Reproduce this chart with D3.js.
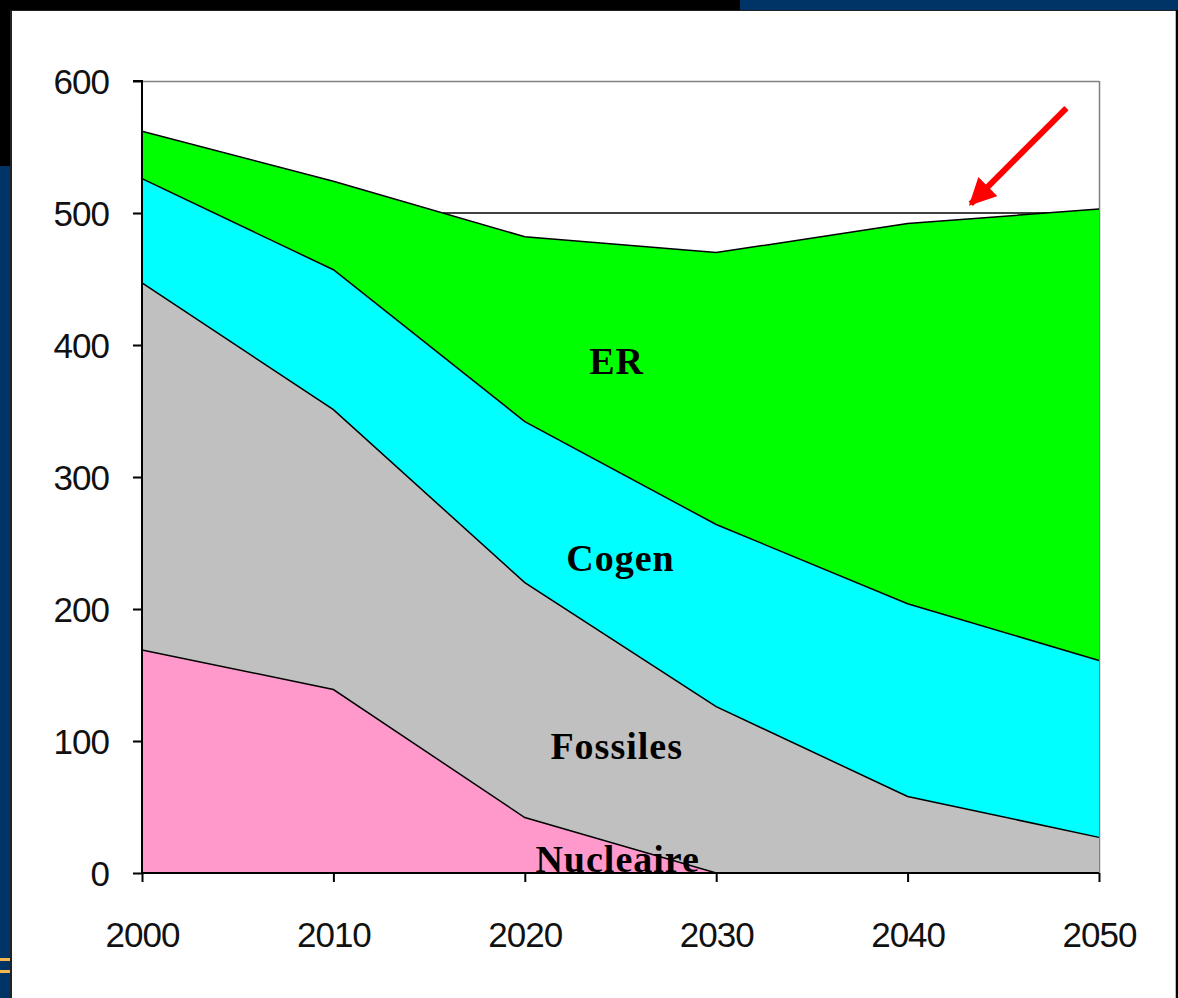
<!DOCTYPE html>
<html>
<head>
<meta charset="utf-8">
<script src="https://cdn.jsdelivr.net/npm/d3@7"></script>
<style>
  html, body { margin: 0; padding: 0; background: #000; }
  svg { display: block; }
</style>
</head>
<body>
<svg id="chart" width="1178" height="998"></svg>
<script>
// ---- Data ----
const years = [2000, 2010, 2020, 2030, 2040, 2050];
const nucleaire = [169, 139, 42, 0, 0, 0];
const fossiles  = [278, 212, 178, 126, 58, 27];
const cogen     = [79, 106, 122, 138, 146, 134];
const er        = [36, 67, 140, 206, 288, 342];
const seriesKeys = ["Nucleaire", "Fossiles", "Cogen", "ER"];
const seriesColors = ["#ff99cc", "#c0c0c0", "#00ffff", "#00ff00"];
const yTicks = [0, 100, 200, 300, 400, 500, 600];
const target = 500;
// label anchors in data units (year, value)
const labelNames = ["ER", "Cogen", "Fossiles", "Nucleaire"];
const labelYears = [2024.8, 2025.0, 2024.8, 2024.85];
const labelVals  = [378, 229, 86, 1];

const rows = years.map((y, i) => ({
  year: y, Nucleaire: nucleaire[i], Fossiles: fossiles[i], Cogen: cogen[i], ER: er[i]
}));

const svg = d3.select("#chart");

// ---- Background frame ----
svg.append("rect").attr("x", 0).attr("y", 0).attr("width", 1178).attr("height", 998).attr("fill", "#000");
svg.append("rect").attr("x", 740).attr("y", 0).attr("width", 438).attr("height", 10).attr("fill", "#003366");
svg.append("rect").attr("x", 0).attr("y", 166).attr("width", 10).attr("height", 832).attr("fill", "#003366");
svg.append("rect").attr("x", 0).attr("y", 958).attr("width", 10).attr("height", 3).attr("fill", "#f5b84f");
svg.append("rect").attr("x", 0).attr("y", 970).attr("width", 10).attr("height", 3).attr("fill", "#f5b84f");
svg.append("rect").attr("x", 10).attr("y", 10).attr("width", 1166).attr("height", 988).attr("fill", "#222");
svg.append("rect").attr("x", 12).attr("y", 11).attr("width", 1163).attr("height", 987).attr("fill", "#fff");
svg.append("line").attr("x1", 1175.5).attr("x2", 1175.5).attr("y1", 11).attr("y2", 998).attr("stroke", "#bbb");

// ---- Scales ----
const x = d3.scaleLinear().domain([2000, 2050]).range([142, 1099]);
const y = d3.scaleLinear().domain([0, 600]).range([873, 81]);

// plot frame (top & right)
svg.append("line").attr("x1", x(2000)).attr("x2", x(2050)).attr("y1", y(600) + 0.5).attr("y2", y(600) + 0.5)
  .attr("stroke", "#808080").attr("stroke-width", 1.5);
svg.append("line").attr("x1", x(2050) + 0.5).attr("x2", x(2050) + 0.5).attr("y1", y(600)).attr("y2", y(0))
  .attr("stroke", "#808080").attr("stroke-width", 1.5);

// ---- Target line at 500, from where total first drops to it (behind the areas) ----
const totals = rows.map(r => seriesKeys.reduce((s, k) => s + r[k], 0));
let startYear = years[0];
for (let i = 0; i < years.length - 1; i++) {
  if (totals[i] >= target && totals[i + 1] < target) {
    const t = (totals[i] - target) / (totals[i] - totals[i + 1]);
    startYear = years[i] + t * (years[i + 1] - years[i]);
    break;
  }
}
svg.append("line")
  .attr("x1", x(startYear)).attr("x2", x(2050))
  .attr("y1", y(target)).attr("y2", y(target))
  .attr("stroke", "#000").attr("stroke-width", 1.5);

// ---- Stacked areas ----
const stack = d3.stack().keys(seriesKeys);
const stacked = stack(rows);

const area = d3.area()
  .x(d => x(d.data.year))
  .y0(d => y(d[0]))
  .y1(d => y(d[1]));
const topLine = d3.line()
  .x(d => x(d.data.year))
  .y(d => y(d[1]));

svg.append("g").selectAll("path.area").data(stacked).join("path")
  .attr("class", "area")
  .attr("d", area)
  .attr("fill", (d, i) => seriesColors[i]);

svg.append("g").selectAll("path.edge").data(stacked).join("path")
  .attr("class", "edge")
  .attr("d", topLine)
  .attr("fill", "none")
  .attr("stroke", "#000")
  .attr("stroke-width", 1.5);

// ---- Axes ----
const yAxis = d3.axisLeft(y).tickValues(yTicks).tickSize(9).tickPadding(5).tickFormat(d3.format("d"));
const gy = svg.append("g").attr("transform", `translate(${x(2000)},0)`).call(yAxis);
gy.select(".domain").attr("stroke", "#000").attr("stroke-width", 2).attr("d", `M-9,${y(600)}H0V${y(0)}`);
gy.selectAll(".tick line").attr("stroke", "#000").attr("stroke-width", 2);
gy.selectAll(".tick text")
  .attr("font-family", "'Liberation Sans', Arial, sans-serif")
  .attr("font-size", 35).attr("letter-spacing", -1)
  .attr("fill", "#111")
  .attr("x", -33)
  .attr("dy", "0.36em");

const xAxis = d3.axisBottom(x).tickValues(years).tickSize(9).tickPadding(40).tickFormat(d3.format("d"));
const gx = svg.append("g").attr("transform", `translate(0,${y(0)})`).call(xAxis);
gx.select(".domain").attr("stroke", "#000").attr("stroke-width", 2).attr("d", `M${x(2000)},0H${x(2050)}`);
gx.selectAll(".tick line").attr("stroke", "#000").attr("stroke-width", 2);
gx.selectAll(".tick text")
  .attr("font-family", "'Liberation Sans', Arial, sans-serif")
  .attr("font-size", 35).attr("letter-spacing", -1)
  .attr("fill", "#111");

// ---- Series labels ----
svg.append("g").selectAll("text.lbl").data(labelNames).join("text")
  .attr("class", "lbl")
  .attr("x", (d, i) => x(labelYears[i]))
  .attr("y", (d, i) => y(labelVals[i]))
  .attr("text-anchor", "middle")
  .attr("font-family", "'Liberation Serif', 'Times New Roman', serif")
  .attr("font-weight", "bold")
  .attr("font-size", 38)
  .attr("letter-spacing", 1)
  .attr("fill", "#000")
  .text(d => d);

// ---- Red arrow annotation ----
const defs = svg.append("defs");
defs.append("marker").attr("id", "arrow")
  .attr("viewBox", "0 0 10 10").attr("refX", 9).attr("refY", 5)
  .attr("markerWidth", 4.5).attr("markerHeight", 4.5)
  .attr("markerUnits", "strokeWidth")
  .attr("orient", "auto")
  .append("path").attr("d", "M0,0L10,5L0,10Z").attr("fill", "#ff0000");
svg.append("line")
  .attr("x1", x(2048.3)).attr("y1", y(579.5))
  .attr("x2", x(2043.3)).attr("y2", y(507))
  .attr("stroke", "#ff0000").attr("stroke-width", 6)
  .attr("marker-end", "url(#arrow)");
</script>
</body>
</html>
